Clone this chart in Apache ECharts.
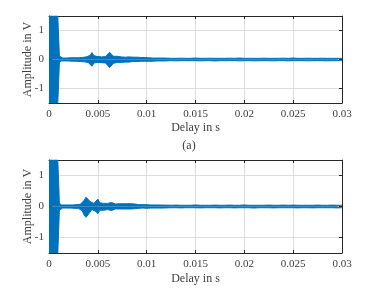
<!DOCTYPE html>
<html><head><meta charset="utf-8">
<script src="https://cdn.jsdelivr.net/npm/echarts@6/dist/echarts.min.js"></script>
<style>html,body{margin:0;padding:0;background:#fff}#c{width:378px;height:290px}</style>
</head><body><div id="c"></div>
<script>
// Delay axis sample positions (s)
const T = [0, 0.0003, 0.0006, 0.0009, 0.00098, 0.00102, 0.00106, 0.0011,
  0.0012, 0.0014, 0.0016, 0.0018, 0.002, 0.0022, 0.0024, 0.0026, 0.0028, 0.003,
  0.0032, 0.0034, 0.0036, 0.0038, 0.004, 0.0042, 0.0044, 0.0046, 0.0048, 0.005,
  0.0052, 0.0054, 0.0056, 0.0058, 0.006, 0.0062, 0.0064, 0.0066, 0.0068, 0.007,
  0.0072, 0.0074, 0.0076, 0.0078, 0.008, 0.0082, 0.0084, 0.0086, 0.0088, 0.009,
  0.0092, 0.0094, 0.0096, 0.0098, 0.01, 0.0102, 0.0104, 0.0106, 0.0108, 0.011,
  0.0112, 0.0114, 0.0116, 0.0118, 0.012,
  0.0125, 0.013, 0.0135, 0.014, 0.0145, 0.015,
  0.0155, 0.016, 0.0165, 0.017, 0.0175, 0.018,
  0.0185, 0.019, 0.0195, 0.02, 0.0205, 0.021,
  0.0215, 0.022, 0.0225, 0.023, 0.0235, 0.024,
  0.0245, 0.025, 0.0255, 0.026, 0.0265, 0.027,
  0.0275, 0.028, 0.0285, 0.029, 0.0295, 0.03];

// (a) signal envelope, upper / lower (V)
const aUp = [1.5, 1.5, 1.5, 1.5, 1.5, 0.5, 0.12, 0.07,
  0.06, 0.05, 0.06, 0.05, 0.06, 0.06, 0.05, 0.06, 0.06, 0.06,
  0.06, 0.07, 0.08, 0.09, 0.1, 0.14, 0.24, 0.13, 0.09, 0.1,
  0.1, 0.09, 0.11, 0.1, 0.13, 0.25, 0.18, 0.11, 0.1, 0.11,
  0.1, 0.09, 0.1, 0.08, 0.09, 0.09, 0.08, 0.08, 0.07, 0.08,
  0.07, 0.07, 0.06, 0.07, 0.06, 0.06, 0.06, 0.05, 0.06, 0.05,
  0.05, 0.05, 0.05, 0.05, 0.05,
  0.04, 0.04, 0.045, 0.04, 0.04, 0.05,
  0.04, 0.04, 0.045, 0.04, 0.04, 0.04,
  0.045, 0.04, 0.05, 0.04, 0.04, 0.04,
  0.04, 0.045, 0.04, 0.04, 0.04, 0.045,
  0.04, 0.05, 0.04, 0.04, 0.045, 0.04,
  0.04, 0.045, 0.04, 0.04, 0.04, 0.04];
const aLo = [-1.5, -1.5, -1.5, -1.5, -1.5, -0.5, -0.12, -0.07,
  -0.05, -0.06, -0.05, -0.06, -0.05, -0.06, -0.06, -0.05, -0.06, -0.06,
  -0.07, -0.08, -0.08, -0.09, -0.1, -0.14, -0.23, -0.12, -0.09, -0.1,
  -0.1, -0.11, -0.1, -0.12, -0.15, -0.28, -0.26, -0.13, -0.1, -0.1,
  -0.09, -0.1, -0.09, -0.09, -0.08, -0.09, -0.08, -0.07, -0.08, -0.07,
  -0.07, -0.06, -0.07, -0.06, -0.06, -0.06, -0.05, -0.06, -0.05, -0.05,
  -0.05, -0.05, -0.05, -0.05, -0.05,
  -0.04, -0.045, -0.04, -0.04, -0.04, -0.04,
  -0.045, -0.04, -0.04, -0.05, -0.04, -0.04,
  -0.04, -0.04, -0.045, -0.04, -0.04, -0.045,
  -0.04, -0.04, -0.04, -0.045, -0.04, -0.04,
  -0.045, -0.04, -0.04, -0.04, -0.045, -0.04,
  -0.04, -0.04, -0.045, -0.04, -0.04, -0.04];

// (b) signal envelope, upper / lower (V)
const bUp = [1.5, 1.5, 1.5, 1.5, 1.5, 0.5, 0.12, 0.07,
  0.05, 0.06, 0.05, 0.06, 0.05, 0.06, 0.05, 0.06, 0.06, 0.06,
  0.07, 0.1, 0.2, 0.3, 0.26, 0.16, 0.1, 0.1, 0.16, 0.24,
  0.12, 0.08, 0.1, 0.16, 0.1, 0.09, 0.13, 0.09, 0.08, 0.1,
  0.09, 0.08, 0.09, 0.08, 0.09, 0.08, 0.09, 0.13, 0.08, 0.07,
  0.06, 0.06, 0.06, 0.05, 0.06, 0.06, 0.05, 0.05, 0.05, 0.05,
  0.05, 0.05, 0.045, 0.05, 0.045,
  0.04, 0.045, 0.04, 0.04, 0.04, 0.05,
  0.04, 0.04, 0.04, 0.045, 0.04, 0.04,
  0.045, 0.04, 0.04, 0.05, 0.04, 0.04,
  0.04, 0.04, 0.045, 0.04, 0.04, 0.045,
  0.04, 0.045, 0.04, 0.04, 0.04, 0.04,
  0.045, 0.04, 0.04, 0.045, 0.04, 0.04];
const bLo = [-1.5, -1.5, -1.5, -1.5, -1.5, -0.5, -0.12, -0.07,
  -0.06, -0.05, -0.06, -0.05, -0.06, -0.05, -0.06, -0.06, -0.05, -0.06,
  -0.08, -0.14, -0.28, -0.35, -0.3, -0.18, -0.1, -0.1, -0.16, -0.23,
  -0.12, -0.09, -0.12, -0.18, -0.1, -0.09, -0.13, -0.1, -0.08, -0.1,
  -0.08, -0.09, -0.08, -0.09, -0.08, -0.09, -0.08, -0.12, -0.07, -0.07,
  -0.06, -0.06, -0.05, -0.06, -0.06, -0.05, -0.05, -0.05, -0.05, -0.05,
  -0.05, -0.045, -0.05, -0.045, -0.045,
  -0.04, -0.04, -0.045, -0.04, -0.04, -0.04,
  -0.045, -0.04, -0.04, -0.04, -0.045, -0.04,
  -0.04, -0.045, -0.04, -0.04, -0.04, -0.05,
  -0.04, -0.04, -0.04, -0.045, -0.04, -0.04,
  -0.04, -0.04, -0.045, -0.04, -0.04, -0.045,
  -0.04, -0.04, -0.04, -0.04, -0.045, -0.04];

const yTicks = [-1, 0, 1];
const xLabel = 'Delay in s';
const yLabel = 'Amplitude in V';
const panelLabels = ['(a)'];

const FONT = 'Liberation Serif';
const BLUE = '#0072BD';
const AX = '#262626';
const TXT = '#404040';

function pairs(xs, ys){ return xs.map((x,i)=>[x, ys[i]]); }

function xMain(g, gap){
  return {gridIndex:g, type:'value', min:0, max:0.03, interval:0.005,
    name:xLabel, nameLocation:'middle', nameGap:gap, nameMoveOverlap:false,
    nameTextStyle:{fontFamily:FONT, fontSize:12, color:TXT},
    axisLine:{show:true, onZero:false, lineStyle:{color:AX, width:1}},
    axisTick:{show:true, inside:true, length:3, lineStyle:{color:AX}},
    axisLabel:{show:true, margin:6, fontFamily:FONT, fontSize:11, color:TXT,
      formatter:v=>String(v)},
    splitLine:{show:true, lineStyle:{color:'#dedede', width:1}}};
}
function xTop(g){
  return {gridIndex:g, type:'value', position:'top', min:0, max:0.03, interval:0.005,
    axisLine:{show:true, onZero:false, lineStyle:{color:AX, width:1}},
    axisTick:{show:true, inside:true, length:3, lineStyle:{color:AX}},
    axisLabel:{show:false}, splitLine:{show:false}};
}
function yMain(g){
  return {gridIndex:g, type:'value', min:-1.5, max:1.5,
    name:yLabel, nameLocation:'middle', nameGap:15, nameMoveOverlap:false,
    nameTextStyle:{fontFamily:FONT, fontSize:12, color:TXT},
    axisLine:{show:true, onZero:false, lineStyle:{color:AX, width:1}},
    axisTick:{show:true, inside:true, length:3, customValues:yTicks, lineStyle:{color:AX}},
    axisLabel:{show:true, margin:5, fontFamily:FONT, fontSize:11, color:TXT, customValues:yTicks},
    splitLine:{show:true, lineStyle:{color:'#dedede', width:1}}};
}
function yRight(g){
  return {gridIndex:g, type:'value', position:'right', min:-1.5, max:1.5,
    axisLine:{show:true, onZero:false, lineStyle:{color:AX, width:1}},
    axisTick:{show:true, inside:true, length:3, customValues:yTicks, lineStyle:{color:AX}},
    axisLabel:{show:false, customValues:yTicks}, splitLine:{show:false}};
}
function band(xi, yi, data){
  return {type:'line', xAxisIndex:xi, yAxisIndex:yi, data:data, showSymbol:false,
    symbol:'none', lineStyle:{color:BLUE, width:1}, areaStyle:{color:BLUE, opacity:1},
    clip:true, silent:true, z:1};
}

const chart = echarts.init(document.getElementById('c'), null, {renderer:'canvas'});
chart.setOption({
  animation:false,
  backgroundColor:'#fff',
  grid:[
    {left:49, right:36, top:16, height:87},
    {left:49, right:36, top:160, height:93}
  ],
  xAxis:[xMain(0, 19), xTop(0), xMain(1, 20), xTop(1)],
  yAxis:[yMain(0), yRight(0), yMain(1), yRight(1)],
  series:[
    band(0, 0, pairs(T, aUp)),
    band(0, 0, pairs(T, aLo)),
    band(2, 2, pairs(T, bUp)),
    band(2, 2, pairs(T, bLo))
  ],
  graphic:[
    {type:'text', left:'center', top:140, style:{text:panelLabels[0], font:'12px "Liberation Serif"', fill:TXT}}
  ]
});
</script>
</body></html>
